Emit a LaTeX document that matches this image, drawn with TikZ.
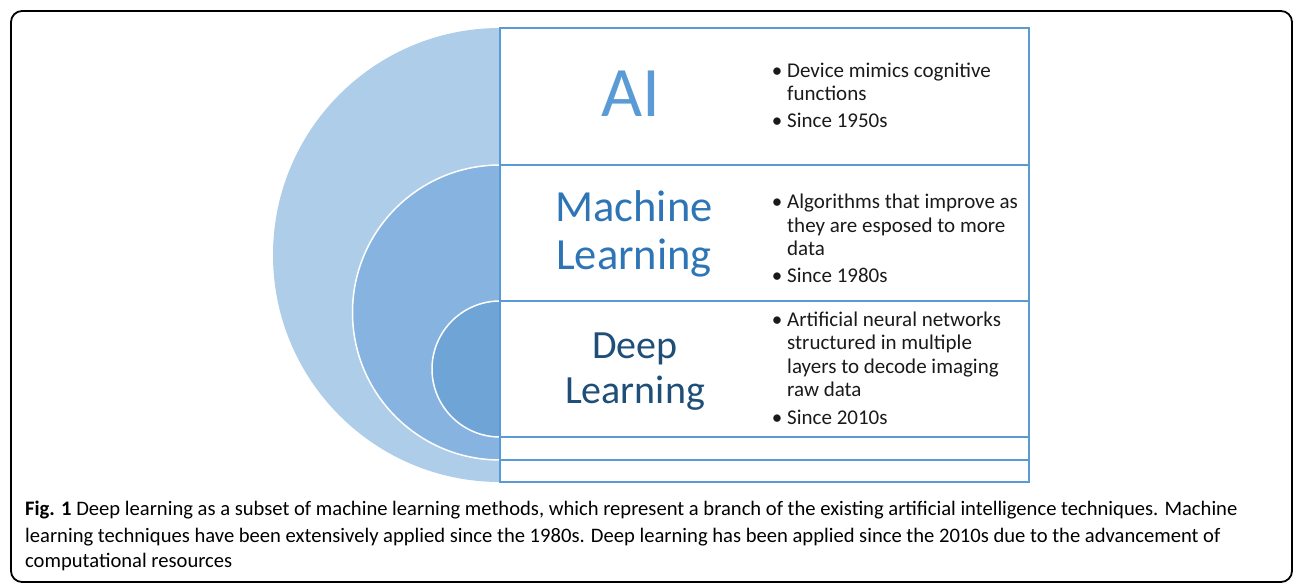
\documentclass[tikz,border=0pt]{standalone}
\usepackage{fontspec}
\setmainfont{Carlito}
\newfontfamily\capfont{Carlito}
\definecolor{aiC}{HTML}{AECDE9}
\definecolor{mlC}{HTML}{86B3DF}
\definecolor{dlC}{HTML}{6FA4D6}
\definecolor{boxC}{HTML}{5B9BD5}
\definecolor{aiT}{HTML}{5B9BD5}
\definecolor{mlT}{HTML}{2E75B6}
\definecolor{dlT}{HTML}{1F4E79}
\definecolor{bodyT}{HTML}{1A1A1A}
\newcommand{\bpt}{\llap{\textbullet\hspace{5pt}}}
\begin{document}
\begin{tikzpicture}[x=1pt,y=-1pt,
  boxline/.style={draw=boxC,line width=1.3pt},
  ttl/.style={inner sep=0pt,anchor=base,align=center},
  bul/.style={inner sep=0pt,anchor=base west,align=left,text=bodyT,
     font=\fontsize{21}{23.5}\selectfont},
  captext/.style={inner sep=0pt,anchor=base west,text=black,
     font=\capfont\fontsize{20.6}{25}\selectfont}]
\useasboundingbox (0,0) rectangle (1296,586);
\draw[line width=1.8pt,rounded corners=11pt] (11,11) rectangle (1292,582);
% nested half disks
\begin{scope}
\clip (0,0) rectangle (500,586);
\fill[aiC] (500,255) circle[radius=227];
\fill[mlC] (500,312.5) circle[radius=147.5];
\draw[white,line width=1.5pt] (500,312.5) circle[radius=147.5];
\fill[dlC] (500,369) circle[radius=68];
\draw[white,line width=1.5pt] (500,369) circle[radius=68];
\end{scope}
% boxes
\draw[boxline] (500,28) rectangle (1029,482);
\draw[boxline] (500,165) -- (1029,165);
\draw[boxline] (500,301) -- (1029,301);
\draw[boxline] (500,437) -- (1029,437);
\draw[boxline] (500,460) -- (1029,460);
% titles (base anchor = baseline of last line)
\node[ttl,text=aiT,font=\fontsize{71}{80}\selectfont] (ai) at (631,116) {AI};
\node[ttl,text=mlT,font=\fontsize{44.5}{48}\selectfont] (ml) at (634,269) {Machine\\Learning};
\node[ttl,text=dlT,font=\fontsize{40}{45}\selectfont] (dl) at (635,403) {Deep\\Learning};
% bullets
\node[bul] (aib) at (787,127) {\bpt Device mimics cognitive\\functions\\[3pt]\bpt Since 1950s};
\node[bul] (mlb) at (787,282) {\bpt Algorithms that improve as\\they are esposed to more\\data\\[3pt]\bpt Since 1980s};
\node[bul] (dlb) at (787,424) {\bpt Artificial neural networks\\structured in multiple\\layers to decode imaging\\raw data\\[4pt]\bpt Since 2010s};
% caption
\node[captext] (c1) at (25,515) {\textbf{Fig. 1} Deep learning as a subset of machine learning methods, which represent a branch of the existing artificial intelligence techniques. Machine};
\node[captext] (c2) at (25,542) {learning techniques have been extensively applied since the 1980s. Deep learning has been applied since the 2010s due to the advancement of};
\node[captext] (c3) at (25,567) {computational resources};
\end{tikzpicture}
\end{document}
